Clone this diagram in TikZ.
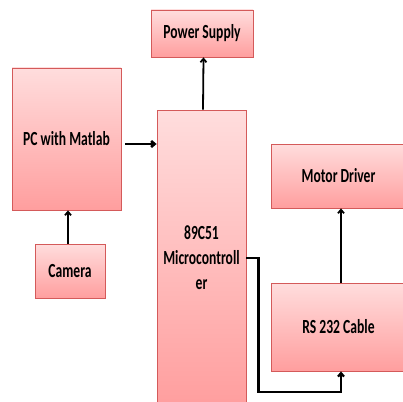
\documentclass[tikz,border=0pt]{standalone}
\usepackage{fontspec}
\setmainfont{Carlito}[FakeStretch=0.68]
\usetikzlibrary{shapes}
\usetikzlibrary {arrows.meta}
\usetikzlibrary {shadows}

\definecolor{boxtop}{HTML}{FFDDDD}
\definecolor{boxbot}{HTML}{FF9E9E}
\definecolor{boxline}{HTML}{D45A5A}

\tikzset{
  block/.style={rectangle,draw=boxline,line width=0.8pt,top color=boxtop,bottom color=boxbot,
    drop shadow={opacity=0.35,shadow xshift=0.8pt,shadow yshift=-1.2pt},
    font=\fontsize{20}{25}\selectfont\bfseries,align=center,inner sep=0pt},
  conn/.style={-{Straight Barb[length=3.5pt,width=6pt]},line width=1.8pt,black}
}

\begin{document}
\begin{tikzpicture}[x=1pt,y=-1pt]
\useasboundingbox (0,0) rectangle (403,401);
\clip (0,0) rectangle (403,401);

\node[block,minimum width=102pt,minimum height=47pt] (ps) at (202,33.5){Power Supply};
\node[block,minimum width=109pt,minimum height=142pt] (pc) at (66.5,139){PC with Matlab};
\node[block,minimum width=89pt,minimum height=296pt] (mc) at (201.5,258){89C51\\Microcontroll\\er};
\node[block,minimum width=135pt,minimum height=64pt] (md) at (338.5,176){Motor Driver};
\node[block,minimum width=70pt,minimum height=54pt] (cam) at (70,271){Camera};
\node[block,minimum width=135pt,minimum height=88pt] (rs) at (338.5,327){RS 232 Cable};

\coordinate (pcout) at ([shift={(4,5)}]pc.east);
\draw[conn,line width=2.6pt] (pcout) -- (pcout -| mc.west);
\draw[conn] ([xshift=1.5pt]mc.north) -- ([xshift=1.5pt]ps.south);
\draw[conn] ([xshift=-2pt]cam.north) -- ([xshift=-2pt]cam.north |- pc.south);
\draw[conn] ([xshift=2.5pt]rs.north) -- ([xshift=2.5pt]md.south);
\draw[conn,line width=2.2pt] (mc.east) -- ++(12,0) -- ++(0,134) -| ([xshift=2.5pt]rs.south);

\end{tikzpicture}
\end{document}
